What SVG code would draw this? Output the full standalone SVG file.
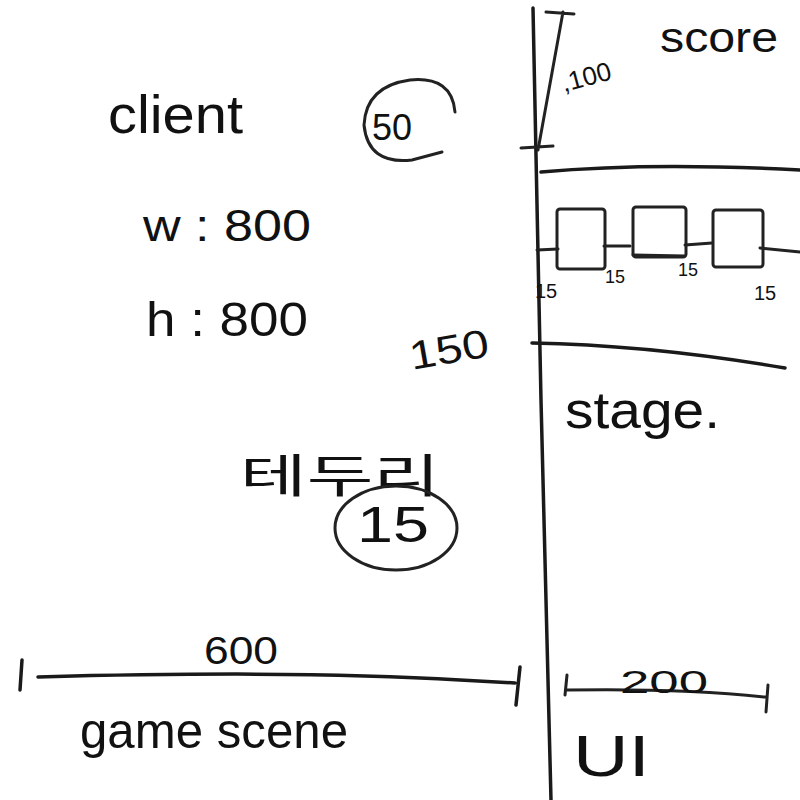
<svg xmlns="http://www.w3.org/2000/svg" width="800" height="800" viewBox="0 0 800 800">
<style>
.ln{fill:none;stroke:#1a1a1a;stroke-width:3.5;stroke-linecap:round;stroke-linejoin:round}
.th{fill:none;stroke:#222;stroke-width:3;stroke-linecap:round}
.t{font-family:"Liberation Sans","Noto Sans CJK KR",sans-serif;fill:#111}
</style>
<rect width="800" height="800" fill="#fff"/>
<g id="connectors">
<path class="ln" d="M533,8 L541,400 L551,800"/>
<path class="ln" d="M541,172 Q650,162 800,170"/>
<path class="ln" d="M532,343 Q650,345 785,368"/>
<path class="th" d="M563,12 L538,150 M546,12 L574,14 M521,148 L553,146"/>
<path class="th" d="M537,250 L558,249 M604,246 L630,246 M633,255 L685,256 M685,245 L712,243 M760,248 L800,252"/>
<path class="ln" d="M38,677 Q300,670 460,680 L515,683 M22,660 L20,690 M520,667 L516,705"/>
<path class="th" d="M567,675 L565,695 M567,690 Q680,688 765,697 M768,685 L766,712"/>
</g>
<g id="client"><text class="t" x="108" y="133" font-size="54" textLength="135" lengthAdjust="spacingAndGlyphs">client</text></g>
<g id="w"><text class="t" x="143" y="241" font-size="44" textLength="168" lengthAdjust="spacingAndGlyphs">w : 800</text></g>
<g id="h"><text class="t" x="146" y="336" font-size="48" textLength="162" lengthAdjust="spacingAndGlyphs">h : 800</text></g>
<g id="padding50"><path class="th" d="M455,112 Q452,76 410,80 Q366,86 364,125 Q368,165 412,160 L442,152"/><text class="t" x="372" y="140" font-size="36">50</text></g>
<g id="score"><text class="t" x="660" y="52" font-size="42" textLength="118" lengthAdjust="spacingAndGlyphs">score</text><text class="t" x="564" y="92" font-size="26" transform="rotate(-15 564 92)">,100</text></g>
<g id="blocks">
<rect class="th" x="557" y="209" width="48" height="60" rx="3"/>
<rect class="th" x="633" y="207" width="53" height="50" rx="3"/>
<rect class="th" x="713" y="210" width="50" height="57" rx="3"/>
<text class="t" x="535" y="298" font-size="20">15</text>
<text class="t" x="605" y="283" font-size="18">15</text>
<text class="t" x="678" y="276" font-size="18">15</text>
<text class="t" x="754" y="300" font-size="20">15</text>
</g>
<g id="h150"><text class="t" x="412" y="370" font-size="40" transform="rotate(-10 412 370)" textLength="80" lengthAdjust="spacingAndGlyphs">150</text></g>
<g id="stage"><text class="t" x="565" y="428" font-size="52" textLength="155" lengthAdjust="spacingAndGlyphs">stage.</text></g>
<g id="border"><text class="t" x="240" y="492" font-size="46" textLength="200" lengthAdjust="spacingAndGlyphs">테두리</text><ellipse class="th" cx="396" cy="528" rx="61" ry="42"/><text class="t" x="357" y="542" font-size="50" textLength="72" lengthAdjust="spacingAndGlyphs">15</text></g>
<g id="w600"><text class="t" x="204" y="664" font-size="38" textLength="74" lengthAdjust="spacingAndGlyphs">600</text></g>
<g id="gamescene"><text class="t" x="80" y="748" font-size="50" textLength="268" lengthAdjust="spacingAndGlyphs">game scene</text></g>
<g id="w200"><text class="t" x="620" y="693" font-size="32" textLength="88" lengthAdjust="spacingAndGlyphs">200</text></g>
<g id="ui"><text class="t" x="573" y="776" font-size="58" textLength="77" lengthAdjust="spacingAndGlyphs">UI</text></g>
</svg>
